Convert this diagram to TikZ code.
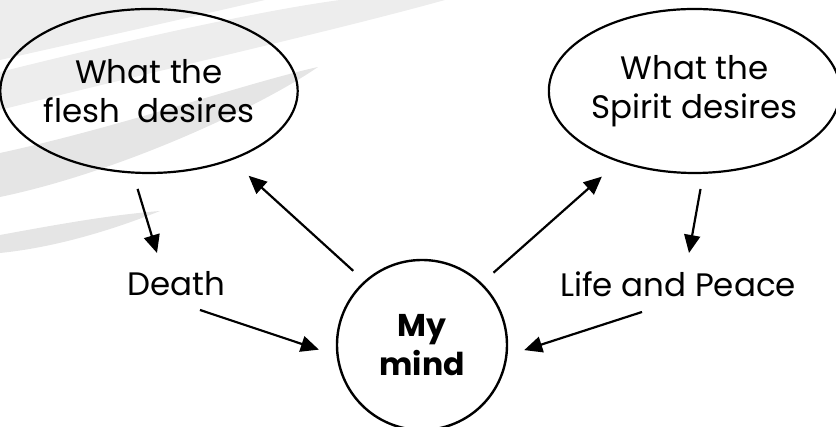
\documentclass[tikz,border=0pt]{standalone}
\usepackage{fontspec}
\setmainfont{Poppins}
\usetikzlibrary{arrows.meta, positioning, shapes.geometric}
\definecolor{swoosh}{RGB}{237,237,237}
\definecolor{swooshdark}{RGB}{229,229,229}
\tikzset{
  wish/.style={ellipse, draw=black, line width=2.2pt, inner sep=0pt,
    minimum width=288pt, minimum height=164pt, align=center,
    font=\fontsize{32.5}{39}\selectfont},
  mindnode/.style={circle, draw=black, line width=2.4pt, inner sep=0pt,
    minimum size=170pt, align=center,
    font=\fontsize{31.5}{39}\selectfont\bfseries},
  result/.style={inner sep=0pt, font=\fontsize{32.5}{39}\selectfont},
  arrow/.style={-{Triangle[length=18pt, width=16pt]}, line width=2.2pt}
}

\begin{document}
\begin{tikzpicture}[x=1pt, y=1pt]
  \useasboundingbox (0,0) rectangle (836,427);

  % Background swooshes
  \fill[swoosh] (0,427) -- (265,427) .. controls (170,405) and (80,385) .. (0,367) -- cycle;
  \fill[swoosh] (0,355) .. controls (100,380) and (250,415) .. (340,427)
    -- (445,427) .. controls (330,395) and (130,350) .. (0,317) -- cycle;
  \fill[swooshdark] (0,274) .. controls (120,300) and (250,345) .. (318,360)
    .. controls (260,320) and (120,255) .. (0,230) -- cycle;
  \fill[swooshdark] (0,192) .. controls (60,203) and (110,212) .. (160,216)
    .. controls (120,200) and (60,180) .. (0,174) -- cycle;

  % Desires
  \node[wish] (flesh) at (149,336) {What the\\flesh\ \ desires};
  \node[wish, minimum width=283pt] (spirit) at (694.5,336) {What the\\Spirit desires};

  % Mind
  \node[mindnode] (mind) at (422,82) {My\\mind};

  % Results
  \node[result] (death) at (176,143) {Death};
  \node[result] (life) at (678,143) {Life and Peace};

  % Arrows
  \draw[arrow, shorten <=16pt] (flesh.-101) -- ([shift={(-19,31)}]death.center);
  \draw[arrow, shorten <=15pt, shorten >=23pt] (mind.132) -- (flesh.-40);
  \draw[arrow, shorten >=18.5pt] ([shift={(24,-26)}]death.center) -- (mind.187);
  \draw[arrow, shorten <=15.5pt, shorten >=22pt] (mind.46.6) -- (spirit.223);
  \draw[arrow, shorten <=15.3pt] (spirit.-84.4) -- ([shift={(11,31)}]life.center);
  \draw[arrow, shorten >=17.5pt] ([shift={(-36,-28)}]life.center) -- (mind.-7);
\end{tikzpicture}
\end{document}
